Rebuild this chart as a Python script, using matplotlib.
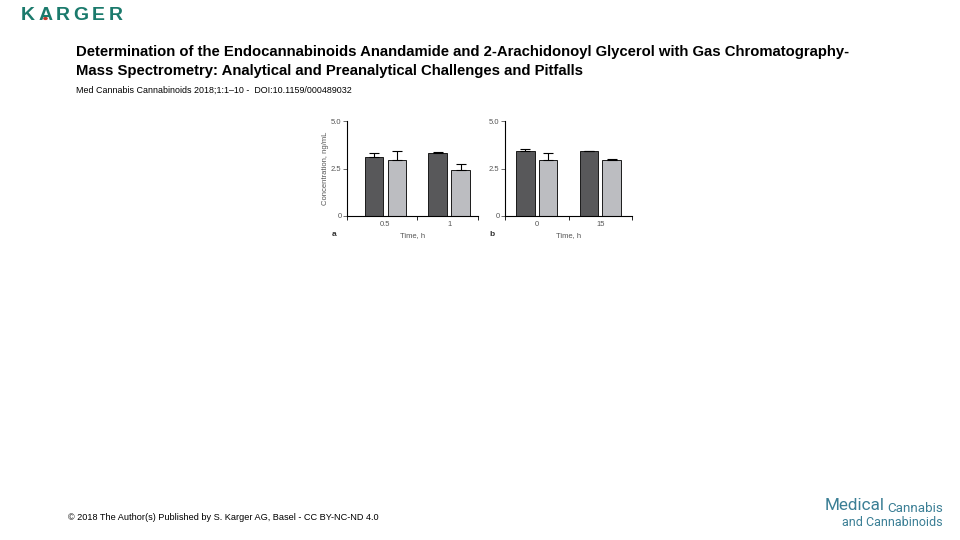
import matplotlib
matplotlib.use("Agg")
import matplotlib.pyplot as plt
import numpy as np
from matplotlib.patches import Circle

plt.rcParams['font.family'] = ['Liberation Sans', 'DejaVu Sans']

# Data
groups_a = ["0.5", "1"]
dark_a = [3.11, 3.32]
dark_a_err = [0.18, 0.04]
light_a = [2.97, 2.41]
light_a_err = [0.44, 0.35]

groups_b = ["0", "15"]
dark_b = [3.41, 3.41]
dark_b_err = [0.10, 0.0]
light_b = [2.94, 2.94]
light_b_err = [0.35, 0.05]

yticks = [0, 2.5, 5.0]
yticklabels = ["0", "2.5", "5.0"]

DARK = "#58585a"
LIGHT = "#bcbdc1"
TXT = "#555555"

fig = plt.figure(figsize=(9.6, 5.4), dpi=100)

def panel(rect, xlim, groups, dark, dark_err, light, light_err, letter, ylabel):
    ax = fig.add_axes(rect)
    x = np.arange(len(groups))
    w = 0.29
    off = 0.18
    ax.bar(x - off, dark, w, color=DARK, edgecolor="#1a1a1a", linewidth=0.7,
           yerr=[np.zeros(len(dark)), dark_err], capsize=3.5,
           error_kw=dict(ecolor="black", elinewidth=0.8, capthick=0.8))
    ax.bar(x + off, light, w, color=LIGHT, edgecolor="#1a1a1a", linewidth=0.7,
           yerr=[np.zeros(len(light)), light_err], capsize=3.5,
           error_kw=dict(ecolor="black", elinewidth=0.8, capthick=0.8))
    ax.set_xlim(*xlim)
    ax.set_ylim(0, 5.0)
    for s in ["top", "right"]:
        ax.spines[s].set_visible(False)
    for s in ["left", "bottom"]:
        ax.spines[s].set_linewidth(0.8)
    ax.set_yticks(yticks)
    ax.set_yticklabels(yticklabels, fontsize=5.5, color=TXT)
    ax.tick_params(axis="y", length=3, width=0.6, pad=1, colors=TXT)
    ax.set_xticks(x)
    ax.set_xticklabels(groups, fontsize=5.5, color=TXT)
    ax.tick_params(axis="x", length=0, pad=3.5)
    ax.set_xticks([xlim[0], 0.5, xlim[1]], minor=True)
    ax.tick_params(axis="x", which="minor", length=3, width=0.6)
    ax.set_xlabel("Time, h", fontsize=5.5, color=TXT, labelpad=3)
    if ylabel:
        ax.set_ylabel("Concentration, ng/mL", fontsize=5.5, color=TXT, labelpad=1)
    ax.text(-0.12, -0.2, letter, transform=ax.transAxes, fontsize=6,
            fontweight="bold", color="#333333", va="center")
    return ax

panel([347/960, 1 - 216/540, 131/960, 95/540], (-0.6, 1.45),
      groups_a, dark_a, dark_a_err, light_a, light_a_err, "a", True)
panel([505/960, 1 - 216/540, 127/960, 95/540], (-0.5, 1.5),
      groups_b, dark_b, dark_b_err, light_b, light_b_err, "b", False)

# Header logo (letter-spaced)
for i, ch in enumerate("KARGER"):
    fig.text((28 + i * 17.5) / 960, 1 - 16/540, ch, fontsize=14,
             color="#1b7a6c", fontweight="bold", va="center", ha="center")
fig.patches.append(Circle((45.5/960, 1 - 18.5/540), 1.6/960, color="#c0392b",
                          transform=fig.transFigure, figure=fig))

fig.text(76/960, 1 - 52/540,
         "Determination of the Endocannabinoids Anandamide and 2-Arachidonoyl Glycerol with Gas Chromatography-",
         fontsize=10.75, fontweight="bold", va="center", ha="left", color="black")
fig.text(76/960, 1 - 71/540,
         "Mass Spectrometry: Analytical and Preanalytical Challenges and Pitfalls",
         fontsize=10.75, fontweight="bold", va="center", ha="left", color="black")
fig.text(76/960, 1 - 90/540,
         "Med Cannabis Cannabinoids 2018;1:1\u201310 -  DOI:10.1159/000489032",
         fontsize=6.4, va="center", ha="left", color="black")

# Footer
fig.text(68/960, 1 - 517/540,
         "\u00a9 2018 The Author(s) Published by S. Karger AG, Basel - CC BY-NC-ND 4.0",
         fontsize=6.6, va="center", ha="left", color="black")
fig.text(825/960, 1 - 506/540, "Medical", fontsize=12.3, color="#3b7f95",
         va="center", ha="left", fontfamily="Roboto")
fig.text(943/960, 1 - 508/540, "Cannabis", fontsize=9.6, color="#3b7f95",
         va="center", ha="right", fontfamily="Roboto")
fig.text(943/960, 1 - 523/540, "and Cannabinoids", fontsize=9, color="#3b7f95",
         va="center", ha="right", fontfamily="Roboto")

fig.savefig("out.png", dpi=100)
